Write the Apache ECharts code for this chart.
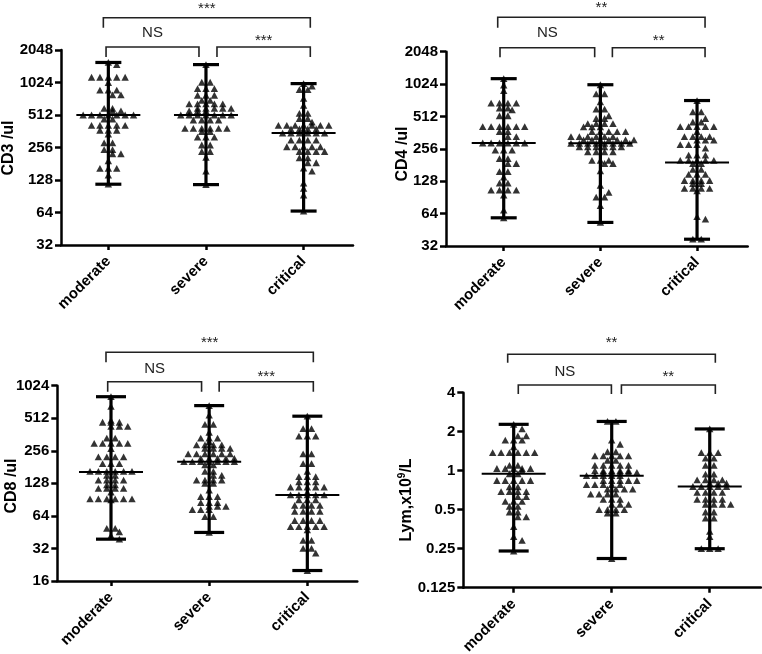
<!DOCTYPE html>
<html><head><meta charset="utf-8">
<script src="https://cdn.jsdelivr.net/npm/echarts@6/dist/echarts.min.js"></script>
<style>html,body{margin:0;padding:0;background:#fff}#c{width:762px;height:654px}</style>
</head><body><div id="c"></div>
<script>
const categories = ['moderate', 'severe', 'critical'];
const comparisons = [[0, 2], [0, 1], [1, 2]];

const cd3Moderate = [1570, 1500, 1145, 1145, 1145, 1145, 1145, 1024, 870, 870, 870, 785, 785, 590, 590, 560, 560, 512, 512, 512, 512, 512, 512, 512, 470, 470, 410, 410, 410, 410, 410, 370, 370, 370, 340, 283, 283, 245, 245, 224, 224, 193, 164, 164, 164, 142, 117];
const cd3Severe = [1500, 1030, 1030, 900, 900, 900, 780, 780, 780, 700, 700, 650, 650, 650, 650, 650, 590, 590, 590, 590, 590, 560, 560, 560, 512, 512, 512, 512, 512, 512, 512, 460, 460, 460, 460, 385, 385, 385, 385, 385, 385, 360, 360, 320, 320, 320, 270, 270, 235, 235, 208, 155, 116];
const cd3Critical = [1000, 950, 880, 880, 730, 630, 530, 530, 475, 475, 440, 410, 410, 410, 410, 410, 410, 410, 380, 380, 380, 380, 348, 348, 348, 348, 348, 348, 300, 300, 300, 300, 260, 260, 260, 260, 260, 235, 235, 235, 235, 205, 205, 185, 185, 165, 155, 120, 107, 93, 66];
const cd3Median = [512, 512, 348];
const cd3Min = [117, 116, 66];
const cd3Max = [1570, 1500, 1000];
const cd3Sig = ['***', 'NS', '***'];

const cd4Moderate = [1150, 1000, 890, 680, 680, 680, 680, 611, 611, 590, 520, 520, 412, 412, 412, 412, 412, 412, 370, 370, 333, 333, 290, 290, 290, 290, 290, 290, 249, 249, 249, 208, 208, 187, 187, 157, 157, 140, 123, 123, 106, 106, 106, 106, 95, 69, 58.5];
const cd4Severe = [1010, 830, 830, 700, 600, 600, 520, 490, 490, 440, 440, 440, 440, 410, 410, 410, 370, 370, 370, 370, 370, 333, 333, 333, 333, 333, 333, 310, 310, 310, 310, 310, 310, 310, 288, 288, 288, 288, 288, 288, 288, 288, 267, 267, 267, 267, 267, 267, 240, 240, 240, 240, 200, 200, 200, 187, 187, 160, 117, 101, 91, 91, 76, 53];
const cd4Critical = [720, 565, 565, 490, 455, 455, 412, 412, 412, 412, 412, 370, 333, 333, 333, 333, 309, 309, 309, 280, 280, 280, 260, 224, 224, 224, 200, 200, 200, 200, 200, 187, 187, 165, 165, 148, 148, 148, 130, 130, 130, 130, 122, 122, 110, 110, 110, 110, 104, 60, 57, 37, 37];
const cd4Median = [290, 288, 191];
const cd4Min = [58.5, 53, 37];
const cd4Max = [1150, 1010, 720];
const cd4Sig = ['**', 'NS', '**'];

const cd8Moderate = [810, 660, 490, 470, 470, 470, 430, 430, 430, 335, 335, 300, 300, 300, 300, 300, 268, 225, 225, 225, 225, 195, 195, 195, 165, 165, 165, 165, 165, 165, 152, 152, 137, 137, 137, 137, 124, 124, 115, 115, 115, 115, 106, 92, 92, 92, 92, 92, 92, 90, 49, 49, 45.5, 42, 39];
const cd8Severe = [670, 547, 450, 450, 380, 335, 335, 335, 312, 290, 290, 290, 290, 270, 270, 270, 270, 240, 240, 240, 240, 240, 240, 218, 218, 218, 218, 218, 203, 203, 203, 203, 203, 203, 203, 190, 190, 165, 165, 152, 152, 137, 137, 137, 137, 128, 128, 111, 96.5, 96.5, 96.5, 85, 85, 85, 78.5, 78.5, 78.5, 73, 73, 73, 63, 63, 45];
const cd8Critical = [535, 410, 410, 350, 350, 350, 240, 240, 195, 195, 165, 148, 148, 148, 132, 132, 132, 118, 118, 118, 118, 118, 106, 100, 100, 100, 100, 100, 90, 90, 90, 80, 80, 80, 80, 70.5, 70.5, 70.5, 70.5, 58, 58, 58, 58, 51, 51, 51, 51, 51, 47.5, 38, 38, 32, 32, 29, 20];
const cd8Median = [163, 203, 100];
const cd8Min = [39, 45, 20];
const cd8Max = [810, 670, 535];
const cd8Sig = ['***', 'NS', '***'];

const lymModerate = [2.28, 2.1, 1.86, 1.86, 1.72, 1.72, 1.72, 1.53, 1.38, 1.38, 1.38, 1.38, 1.38, 1.38, 1.1, 1.1, 1.04, 1.04, 1.04, 1.04, 1.04, 1.0, 0.947, 0.947, 0.84, 0.84, 0.84, 0.84, 0.84, 0.75, 0.75, 0.69, 0.69, 0.69, 0.69, 0.63, 0.63, 0.58, 0.58, 0.58, 0.53, 0.53, 0.48, 0.48, 0.44, 0.44, 0.37, 0.31, 0.29, 0.24];
const lymSevere = [2.4, 2.4, 1.72, 1.6, 1.4, 1.4, 1.3, 1.3, 1.3, 1.3, 1.3, 1.2, 1.2, 1.1, 1.1, 1.1, 1.1, 1.1, 1.0, 1.0, 1.0, 1.0, 1.0, 0.97, 0.97, 0.97, 0.97, 0.97, 0.915, 0.915, 0.915, 0.915, 0.915, 0.84, 0.84, 0.84, 0.84, 0.84, 0.78, 0.78, 0.78, 0.78, 0.78, 0.72, 0.72, 0.72, 0.72, 0.66, 0.66, 0.66, 0.66, 0.6, 0.6, 0.6, 0.55, 0.55, 0.55, 0.5, 0.5, 0.5, 0.5, 0.47, 0.47, 0.21];
const lymCritical = [2.1, 1.38, 1.38, 1.38, 1.25, 1.25, 1.1, 1.1, 0.94, 0.94, 0.85, 0.85, 0.85, 0.85, 0.8, 0.8, 0.8, 0.755, 0.755, 0.755, 0.755, 0.755, 0.68, 0.68, 0.68, 0.68, 0.6, 0.6, 0.6, 0.6, 0.55, 0.55, 0.55, 0.55, 0.48, 0.48, 0.43, 0.43, 0.34, 0.31, 0.25, 0.25, 0.25];
const lymMedian = [0.947, 0.915, 0.755];
const lymMin = [0.24, 0.21, 0.25];
const lymMax = [2.28, 2.4, 2.1];
const lymSig = ['**', 'NS', '**'];

const FONT = '"Liberation Sans", Arial, Helvetica, sans-serif';

const panels = [
  { name: 'CD3 /ul', groups: [cd3Moderate, cd3Severe, cd3Critical], med: cd3Median, lo: cd3Min, hi: cd3Max, sig: cd3Sig,
    grid: { left: 61, top: 50, width: 292, height: 195 }, yMin: 32, yMax: 2048, xMin: -0.485, xMax: 2.506,
    nameXY: [9, 148], cap: 13, bars: [-32.3, -22.3, -3, 7], labOff: [13.2, 14, 10.5],
    dx: [[-5, 6.7], [-2.3, -7], [11, 6.7]] },
  { name: 'CD4 /ul', groups: [cd4Moderate, cd4Severe, cd4Critical], med: cd4Median, lo: cd4Min, hi: cd4Max, sig: cd4Sig,
    grid: { left: 446, top: 51.7, width: 301.7, height: 194.3 }, yMin: 32, yMax: 2048, xMin: -0.597, xMax: 2.524,
    nameXY: [402.7, 154], cap: 13, bars: [-34.4, -24, -4, 5.6], labOff: [13.3, 14.7, 10.7],
    dx: [[-6, 8], [-3.7, -5.7], [12, 8]] },
  { name: 'CD8 /ul', groups: [cd8Moderate, cd8Severe, cd8Critical], med: cd8Median, lo: cd8Min, hi: cd8Max, sig: cd8Sig,
    grid: { left: 57.3, top: 385.7, width: 300, height: 195.3 }, yMin: 16, yMax: 1024, xMin: -0.547, xMax: 2.509,
    nameXY: [11.7, 486], cap: 15, bars: [-33.4, -23.4, -4, 6], labOff: [13, 12.4, 9],
    dx: [[-5, 6], [-3.3, -7.6], [10, 6]] },
  { name: 'Lym,x10{s|9}/L', groups: [lymModerate, lymSevere, lymCritical], med: lymMedian, lo: lymMin, hi: lymMax, sig: lymSig,
    grid: { left: 463.3, top: 392.7, width: 297.7, height: 195 }, yMin: 0.125, yMax: 4, xMin: -0.514, xMax: 2.523,
    nameXY: [406.8, 500], cap: 15, bars: [-38.4, -30, -7.7, 1.3], labOff: [15.3, 12.7, 11.7],
    dx: [[-6, 5.6], [4.6, -0.3], [9.7, 5.6]] }
];

// scatter-dot-plot layout: equal values form a centred row; a row that
// sits too close to an already placed row is staggered by half a step
function swarm(values, cat, p) {
  const lmin = Math.log2(p.yMin), lmax = Math.log2(p.yMax);
  const pxPerUnit = p.grid.width / (p.xMax - p.xMin);
  const s = 8.4;
  const counts = new Map();
  values.forEach(v => counts.set(v, (counts.get(v) || 0) + 1));
  const rows = [...counts.entries()].sort((a, b) => b[1] - a[1] || b[0] - a[0]);
  const placed = [], out = [];
  for (const [v, n] of rows) {
    const py = (Math.log2(v) - lmin) / (lmax - lmin) * p.grid.height;
    const base = [];
    for (let j = 0; j < n; j++) base.push((j - (n - 1) / 2) * s);
    const near = placed.filter(q => Math.abs(q.py - py) < 5);
    const cost = sh => {
      let c = 0;
      base.forEach(b => near.forEach(q => { const d = Math.abs(b + sh - q.x); if (d < s * 0.75) c += (s - d); }));
      return c + Math.abs(sh) * 0.01;
    };
    let best = 0, bestC = cost(0);
    for (const sh of [s / 2, -s / 2, s, -s]) { const c = cost(sh); if (c < bestC - 1e-9) { bestC = c; best = sh; } }
    base.forEach(b => { placed.push({ x: b + best, py }); out.push([cat + (b + best) / pxPerUnit, v]); });
  }
  return out;
}

const lineStyle = { color: '#000', width: 2.5 };
const grids = [], xAxes = [], yAxes = [], series = [], graphics = [];

panels.forEach((p, i) => {
  grids.push(Object.assign({ outerBoundsMode: 'none', containLabel: false }, p.grid));
  xAxes.push({
    type: 'value', gridIndex: i, min: p.xMin, max: p.xMax,
    axisLine: { show: true, onZero: false, lineStyle },
    axisTick: { show: true, customValues: [0, 1, 2], length: 5, lineStyle },
    axisLabel: { customValues: [0, 1, 2], rotate: 45, margin: 14, color: '#000', fontWeight: 'bold', fontSize: 15, fontFamily: FONT,
      formatter: v => categories[Math.round(v)] },
    splitLine: { show: false }
  });
  yAxes.push({
    type: 'log', logBase: 2, gridIndex: i, min: p.yMin, max: p.yMax,
    axisLine: { show: true, onZero: false, lineStyle },
    axisTick: { show: true, length: 6, lineStyle },
    axisLabel: { margin: 8, color: '#000', fontWeight: 'bold', fontSize: 15, fontFamily: FONT,
      formatter: v => String(+(+v).toPrecision(6)) },
    splitLine: { show: false }, minorTick: { show: false }
  });
  p.groups.forEach((g, c) => {
    series.push({
      type: 'scatter', xAxisIndex: i, yAxisIndex: i, symbol: 'triangle', symbolSize: [7.4, 6.8],
      itemStyle: { color: '#000' }, silent: true, z: 2,
      data: swarm(g, c, p)
    });
  });
  series.push({
    type: 'custom', xAxisIndex: i, yAxisIndex: i, silent: true, z: 3, clip: false,
    data: categories.map((_, c) => [c, p.lo[c], p.med[c], p.hi[c]]),
    encode: { x: 0, y: [1, 2, 3] },
    renderItem: (params, api) => {
      const c = api.value(0);
      const x = api.coord([c, api.value(2)])[0];
      const yLo = api.coord([c, api.value(1)])[1];
      const yMed = api.coord([c, api.value(2)])[1];
      const yHi = api.coord([c, api.value(3)])[1];
      const st = w => ({ stroke: '#000', lineWidth: w, fill: null });
      return { type: 'group', children: [
        { type: 'line', shape: { x1: x, y1: yLo, x2: x, y2: yHi }, style: st(3.2) },
        { type: 'line', shape: { x1: x - p.cap, y1: yLo, x2: x + p.cap, y2: yLo }, style: st(3.2) },
        { type: 'line', shape: { x1: x - p.cap, y1: yHi, x2: x + p.cap, y2: yHi }, style: st(3.2) },
        { type: 'line', shape: { x1: x - 32, y1: yMed, x2: x + 32, y2: yMed }, style: st(2) }
      ] };
    }
  });
  series.push({
    type: 'custom', xAxisIndex: i, yAxisIndex: i, silent: true, z: 3, clip: false,
    data: comparisons.map(([a, b], k) => [a, b, k, p.yMin]),
    encode: { x: [0, 1], y: 3 },
    renderItem: (params, api) => {
      const a = api.value(0), b = api.value(1), k = api.value(2);
      const top = params.coordSys.y;
      const outer = (b - a) === 2;
      const bar = top + (outer ? p.bars[0] : p.bars[2]);
      const drop = top + (outer ? p.bars[1] : p.bars[3]);
      const xa = api.coord([a, p.yMin])[0] + p.dx[k][0];
      const xb = api.coord([b, p.yMin])[0] + p.dx[k][1];
      const lab = p.sig[k];
      const isStar = lab.indexOf('*') >= 0;
      const vy = bar - p.labOff[k];
      return { type: 'group', children: [
        { type: 'polyline', shape: { points: [[xa, drop], [xa, bar], [xb, bar], [xb, drop]] },
          style: { stroke: '#222', lineWidth: 1.6, fill: null } },
        { type: 'text', x: (xa + xb) / 2, y: isStar ? vy + 4 : vy,
          style: { text: lab, fill: '#222', fontSize: 15, fontFamily: FONT, align: 'center', verticalAlign: 'middle' } }
      ] };
    }
  });
  graphics.push({
    type: 'text', x: p.nameXY[0], y: p.nameXY[1], rotation: Math.PI / 2,
    style: { text: p.name, fill: '#000', fontSize: 16, fontWeight: 'bold', fontFamily: FONT, align: 'center', verticalAlign: 'middle',
      lineHeight: 20, rich: { s: { fontSize: 10, fontWeight: 'bold', fontFamily: FONT, verticalAlign: 'top', lineHeight: 20 } } }
  });
});

const chart = echarts.init(document.getElementById('c'), null, { renderer: 'canvas' });
chart.setOption({
  backgroundColor: '#fff', animation: false,
  grid: grids, xAxis: xAxes, yAxis: yAxes, series, graphic: graphics
});
</script></body></html>
